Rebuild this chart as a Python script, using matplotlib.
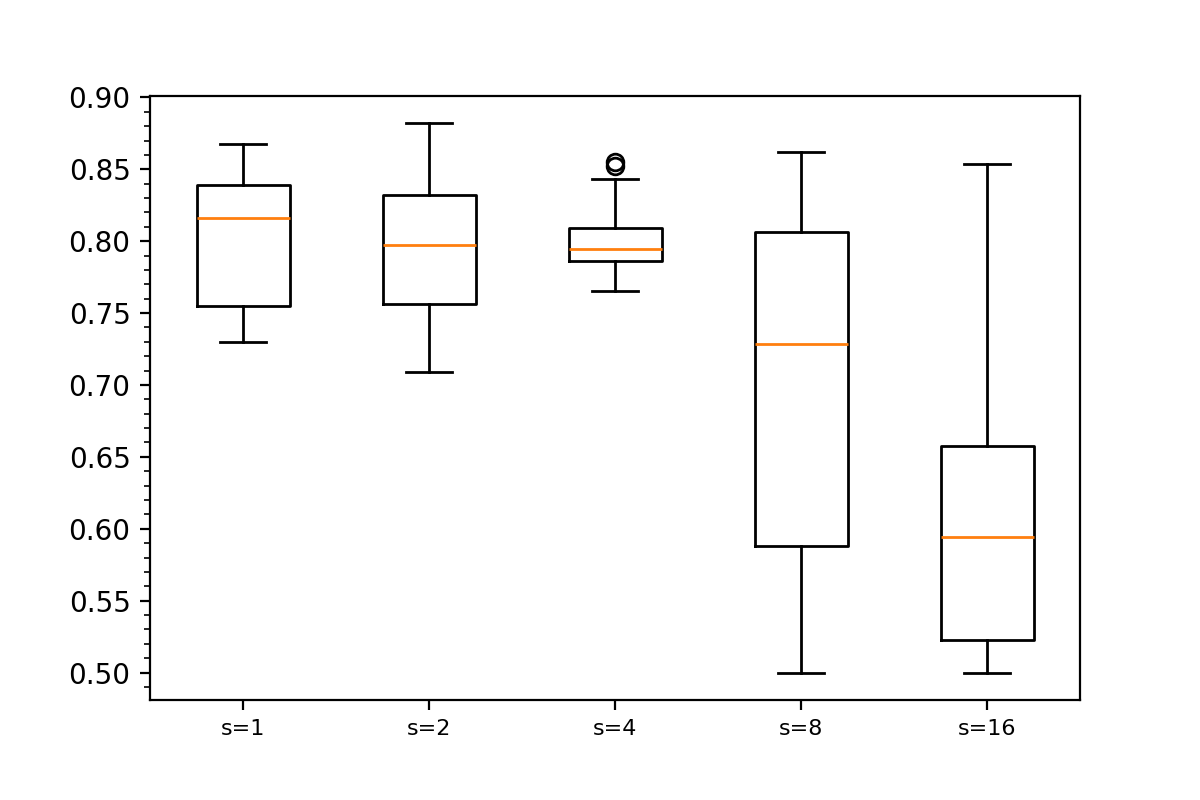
import matplotlib
matplotlib.use("Agg")
import matplotlib.pyplot as plt
from matplotlib.ticker import AutoMinorLocator

labels = ["s=1", "s=2", "s=4", "s=8", "s=16"]
medians = [0.8158, 0.7977, 0.7943, 0.7282, 0.5946]
q1 = [0.7546, 0.7560, 0.7859, 0.5883, 0.5223]
q3 = [0.8388, 0.8318, 0.8089, 0.8061, 0.6579]
whis_lo = [0.7296, 0.7087, 0.7657, 0.5000, 0.5000]
whis_hi = [0.8673, 0.8819, 0.8430, 0.8617, 0.8534]
fliers = [[], [], [0.8553, 0.8525], [], []]

stats = []
for i in range(len(labels)):
    stats.append({"med": medians[i], "q1": q1[i], "q3": q3[i],
                  "whislo": whis_lo[i], "whishi": whis_hi[i],
                  "fliers": fliers[i], "label": labels[i]})

fig, ax = plt.subplots(figsize=(6, 4), dpi=200)
fig.subplots_adjust(bottom=0.125)
ax.bxp(stats)
ax.yaxis.set_minor_locator(AutoMinorLocator())
ax.tick_params(axis="x", labelsize=8)
fig.savefig("out.png")
